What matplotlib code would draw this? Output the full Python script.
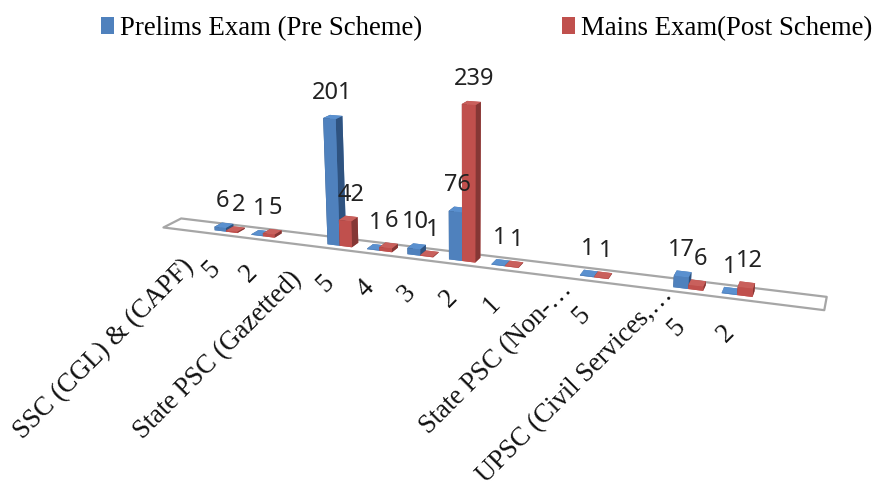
import matplotlib
matplotlib.use("Agg")
import matplotlib.pyplot as plt
import numpy as np
from matplotlib.patches import Patch
from mpl_toolkits.mplot3d import proj3d
from mpl_toolkits.mplot3d.art3d import Poly3DCollection

W, H = 876, 488

# Chart data: slots leave empty rows between the grouped categories
slots = [0, 1, 3, 4, 5, 6, 7, 9, 11, 12]
sub_labels = ["5", "2", "5", "4", "3", "2", "1", "5", "5", "2"]
prelims = [6, 1, 201, 1, 10, 76, 1, 1, 17, 1]
mains = [2, 5, 42, 6, 1, 239, 1, 1, 6, 12]
group_labels = ["SSC (CGL) & (CAPF)", "State PSC (Gazetted)",
                "State PSC (Non-\u2026", "UPSC (Civil Services,\u2026"]
group_ends_px = [(190, 263), (298, 276), (568, 286), (669, 291)]
series_names = ["Prelims Exam (Pre Scheme)", "Mains Exam(Post Scheme)"]

BLUE = ("#4F81BD", "#5A90CF", "#2F5380")
RED = ("#C0504D", "#C9605C", "#853735")

XMIN, XMAX = -1.62, 13.72
DEPTH = 1.0
ZMAX = 239.0
BAR_W = 0.31
BAR_D = 0.45

fig = plt.figure(figsize=(W / 100, H / 100), dpi=100, facecolor="white")
S = 800
cx, cy = 456, 193
ax = fig.add_axes([(cx - S / 2) / W, (H - cy - S / 2) / H, S / W, S / H],
                  projection="3d")
ax.set_proj_type("persp", focal_length=0.27)
ax.view_init(elev=16, azim=-70)
ax.set_xlim(XMIN, XMAX)
ax.set_ylim(0, DEPTH)
ax.set_zlim(0, ZMAX)
ax.set_box_aspect((XMAX - XMIN, 0.76, 3.55), zoom=0.875)
ax.set_axis_off()
ax.patch.set_alpha(0)
ax.computed_zorder = False

# Chart floor
floor = Poly3DCollection([[(XMIN, 0, 0), (XMAX, 0, 0), (XMAX, DEPTH, 0), (XMIN, DEPTH, 0)]],
                         facecolor="white", edgecolor="#A6A6A6", linewidth=1.6, zorder=1)
ax.add_collection3d(floor)


def face_colors(palette):
    front, top, side = palette
    # bar3d face order: bottom, top, front, back, left, right
    return [front, top, front, front, side, side]


def draw_series(values, x_offset, palette, zorder):
    xs = np.array(slots, dtype=float) + x_offset
    ys = np.full(len(xs), (DEPTH - BAR_D) / 2)
    ax.bar3d(xs, ys, np.zeros(len(xs)), BAR_W, BAR_D, values,
             color=face_colors(palette) * len(xs), shade=False,
             linewidth=0, edgecolor="none", zorder=zorder)


draw_series(prelims, -BAR_W, BLUE, 2)
draw_series(mains, 0, RED, 3)

proj = ax.get_proj()


def on_screen(x, y, z):
    """Axes coordinates of a 3D data point under the current camera."""
    px, py, _ = proj3d.proj_transform(x, y, z, proj)
    return px, py


# Value labels above each bar
label_font = dict(family="Noto Sans", fontsize=17, color="#222222", ha="center", va="center",
                  textcoords="offset pixels", zorder=5)
for s, p, m in zip(slots, prelims, mains):
    ax.annotate(str(p), on_screen(s - BAR_W / 2, DEPTH / 2, p), xytext=(-1, 24), **label_font)
    ax.annotate(str(m), on_screen(s + BAR_W / 2, DEPTH / 2, m), xytext=(3, 24), **label_font)

# Category labels below the floor
serif = dict(family="Liberation Serif", fontsize=19.2, color="#111111", rotation=45)
for s, t in zip(slots, sub_labels):
    ax.annotate(t, on_screen(s, 0, 0), xytext=(-10, -35), textcoords="offset pixels",
                ha="center", va="center", **serif)
for (px, py), t in zip(group_ends_px, group_labels):
    fig.text(px / W, 1 - py / H, t, ha="right", va="center", rotation_mode="anchor", **serif)

handles = [Patch(facecolor=BLUE[0]), Patch(facecolor=RED[0])]
fig.legend(handles, series_names, ncol=2, frameon=False, loc="upper left",
           bbox_to_anchor=(101 / W, 1 - 16 / H), handlelength=0.5, handleheight=0.62,
           handletextpad=0.2, columnspacing=5.22, borderaxespad=0, borderpad=0,
           prop=dict(family="Liberation Serif", size=19.3))

fig.savefig("out.png", dpi=100, facecolor="white")
